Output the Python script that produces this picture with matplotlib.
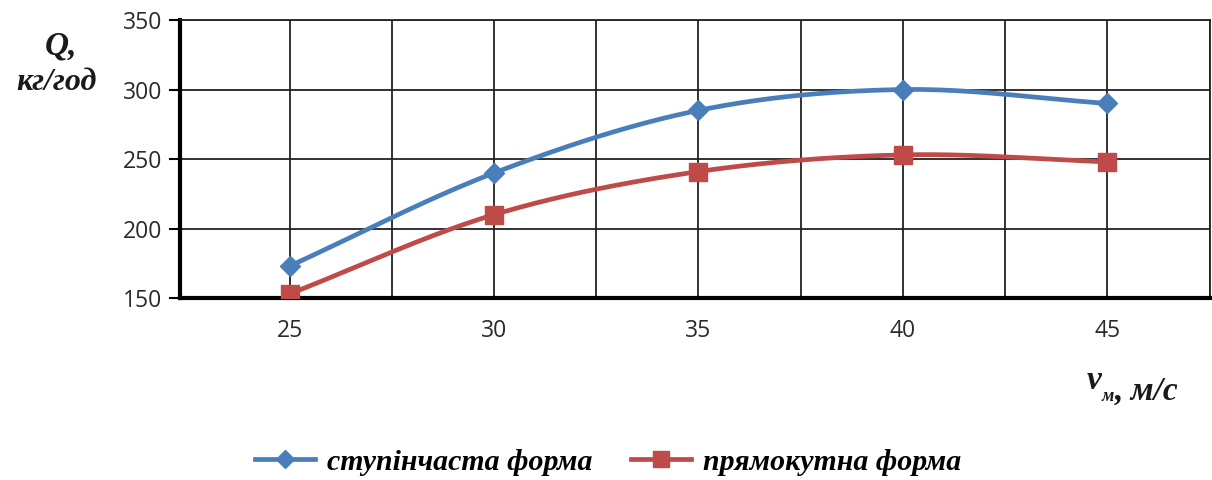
import numpy as np
import matplotlib.pyplot as plt
from matplotlib.lines import Line2D

speed = [25, 30, 35, 40, 45]
stepped = [173, 240, 285, 300, 290]
rect = [153, 210, 241, 253, 248]

label_stepped = 'ступінчаста форма'
label_rect = 'прямокутна форма'


# Excel-like smoothed line (Catmull-Rom through the points)
def smooth(x, y, n=40):
    x = np.asarray(x, float)
    y = np.asarray(y, float)
    px = np.concatenate([[2*x[0] - x[1]], x, [2*x[-1] - x[-2]]])
    py = np.concatenate([[2*y[0] - y[1]], y, [2*y[-1] - y[-2]]])
    xs, ys = [], []
    t = np.linspace(0, 1, n)
    for i in range(1, len(px) - 2):
        for p, out in ((px, xs), (py, ys)):
            p0, p1, p2, p3 = p[i-1], p[i], p[i+1], p[i+2]
            out.extend(0.5*((2*p1) + (-p0 + p2)*t + (2*p0 - 5*p1 + 4*p2 - p3)*t**2
                            + (-p0 + 3*p1 - 3*p2 + p3)*t**3))
    return np.array(xs), np.array(ys)


blue = '#4a7ebb'
red = '#be4b48'

fig = plt.figure(figsize=(12.12, 4.8), dpi=100)
ax = fig.add_axes([0.1485, 0.379, 0.8495, 0.5793])

sx, sy = smooth(speed, stepped)
ax.plot(sx, sy, color=blue, lw=3.4, zorder=3, solid_capstyle='round')
ax.plot(speed, stepped, ls='none', marker='D', ms=10, color=blue, zorder=4)
rx, ry = smooth(speed, rect)
ax.plot(rx, ry, color=red, lw=3.4, zorder=3, solid_capstyle='round')
ax.plot(speed, rect, ls='none', marker='s', ms=13, color=red, zorder=4)

grid_x = np.arange(25, 47.6, 2.5)
ax.set_xlim(22.32, 47.5)
ax.set_ylim(150, 350)
ax.set_xticks(grid_x)
ax.set_xticklabels(['%d' % v if v in speed else '' for v in grid_x])
ax.set_yticks([150, 200, 250, 300, 350])
ax.grid(True, color='#222222', lw=1.3)
ax.tick_params(axis='x', length=0, pad=15, labelsize=16.5, labelcolor='#2a2a2a')
ax.tick_params(axis='y', length=8, width=1.5, pad=5, labelsize=16.5, labelcolor='#2a2a2a', direction='out')
for lab in ax.get_xticklabels() + ax.get_yticklabels():
    lab.set_family('Open Sans')

for s in ['left', 'bottom']:
    ax.spines[s].set_linewidth(3)
    ax.spines[s].set_color('black')
for s in ['top', 'right']:
    ax.spines[s].set_linewidth(1.3)
    ax.spines[s].set_color('#222222')

serif = dict(family='Liberation Serif', weight='bold', style='italic', color='#1a1a1a')
fig.text(0.050, 0.905, 'Q,', fontsize=24, ha='center', va='center', **serif)
fig.text(0.047, 0.828, 'кг/год', fontsize=23, ha='center', va='center', **serif)

# axis title v_м, м/с with a small subscript
tv = fig.text(0.897, 0.19, 'v', fontsize=24, ha='left', va='baseline', **serif)
tm = ax.annotate('м', xy=(1, 0), xycoords=tv, xytext=(0, -4), textcoords='offset points',
                 fontsize=13, ha='left', va='baseline', **serif)
ax.annotate(', м/с', xy=(1, 0), xycoords=tm, xytext=(0, 4), textcoords='offset points',
            fontsize=24, ha='left', va='baseline', **serif)

handles = [Line2D([], [], color=blue, lw=3.4, marker='D', ms=9),
           Line2D([], [], color=red, lw=3.4, marker='s', ms=12)]
fig.legend(handles, [label_stepped, label_rect], loc='center', bbox_to_anchor=(0.502, 0.037),
           ncol=2, frameon=False, handlelength=2.0, columnspacing=1.3, handletextpad=0.4,
           prop=dict(family='Liberation Serif', weight='bold', style='italic', size=21.5))

fig.savefig('out.png', dpi=100)
